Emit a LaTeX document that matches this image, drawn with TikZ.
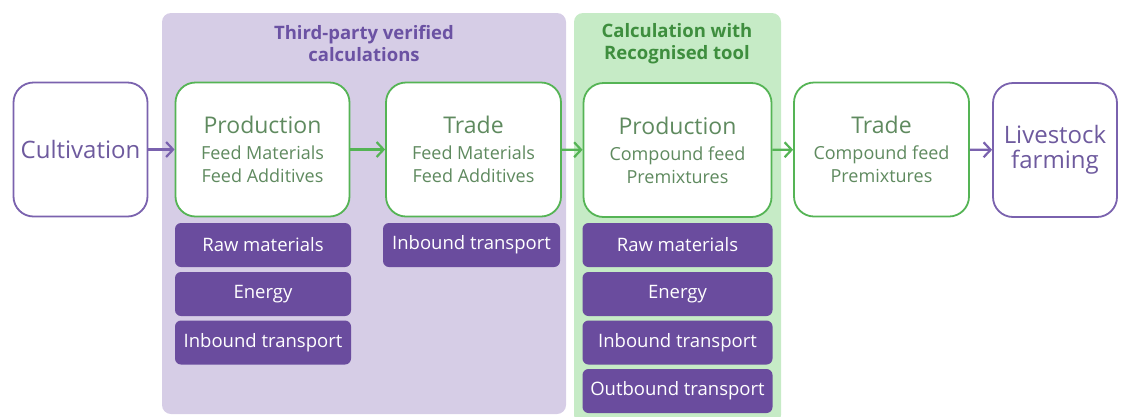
\documentclass[tikz,border=0pt]{standalone}
\usepackage{fontspec}
\setmainfont{Open Sans}
\usetikzlibrary{arrows.meta}
\definecolor{panelP}{HTML}{D6CDE6}
\definecolor{panelG}{HTML}{C6EBC6}
\definecolor{boxP}{HTML}{6A4C9E}
\definecolor{lineG}{HTML}{55B455}
\definecolor{lineP}{HTML}{7A62AE}
\definecolor{txtG}{HTML}{5F8A5F}
\definecolor{txtP}{HTML}{6E5A9E}
\definecolor{titleP}{HTML}{6B52A3}
\definecolor{titleG}{HTML}{3E8E3E}
\tikzset{
  gbox/.style={draw=lineG, line width=1.8pt, fill=white, rounded corners=20pt, align=center, text=txtG, inner sep=0pt, font=\fontsize{18}{23}\selectfont},
  pbox/.style={draw=lineP, line width=1.8pt, fill=white, rounded corners=20pt, align=center, text=txtP, inner sep=0pt, font=\fontsize{24}{25}\selectfont},
  item/.style={fill=boxP, rounded corners=6pt, text=white, minimum height=44pt, inner sep=0pt, font=\fontsize{18.5}{20}\selectfont},
  flowP/.style={draw=lineP, line width=2.2pt, -{Straight Barb[length=7pt,width=15pt]}},
  flowG/.style={draw=lineG, line width=2.2pt, -{Straight Barb[length=7pt,width=15pt]}},
  ttl/.style={font=\bfseries\fontsize{18.5}{22}\selectfont, align=center}
}
\newcommand{\headl}[1]{{\fontsize{23}{24}\selectfont #1}}
\begin{document}
\begin{tikzpicture}[x=1pt,y=-1pt]
\useasboundingbox (0,0) rectangle (1122,416);
\fill[panelP, rounded corners=9pt] (162,13) rectangle (566,414);
\fill[panelG, rounded corners=9pt] (574,13) rectangle (781,424);
\node[ttl, text=titleP] (t1) at (364,44) {Third-party verified\\calculations};
\node[ttl, text=titleG] (t2) at (677,44) {Calculation with\\Recognised tool};

\node[pbox, minimum width=134pt, minimum height=134pt] (cult) at (80.5,149.5) {Cultivation};
\node[gbox, minimum width=174pt, minimum height=134pt] (prod1) at (262.5,149.5) {\headl{Production}\\[3pt]Feed Materials\\Feed Additives};
\node[gbox, minimum width=175pt, minimum height=134pt] (trade1) at (473.5,149.5) {\headl{Trade}\\[3pt]Feed Materials\\Feed Additives};
\node[gbox, minimum width=188pt, minimum height=134pt] (prod2) at (677.5,150) {\headl{Production}\\[3pt]Compound feed\\Premixtures};
\node[gbox, minimum width=175pt, minimum height=134pt] (trade2) at (881.5,149.5) {\headl{Trade}\\[3pt]Compound feed\\Premixtures};
\node[pbox, minimum width=124pt, minimum height=134pt] (live) at (1055,150) {Livestock\\farming};

\draw[flowP] (cult) -- (prod1);
\draw[flowG] (prod1) -- (trade1);
\draw[flowG] (trade1) -- (prod2);
\draw[flowG] (prod2) -- (trade2);
\draw[flowP] (trade2) -- (live);

\node[item, minimum width=176pt] (a1) at (263,245) {Raw materials};
\node[item, minimum width=176pt] (a2) at (263,294) {Energy};
\node[item, minimum width=176pt] (a3) at (263,342.5) {Inbound transport};
\node[item, minimum width=177pt] (b1) at (471.5,245) {Inbound transport};
\node[item, minimum width=190pt] (c1) at (677.5,245) {Raw materials};
\node[item, minimum width=190pt] (c2) at (677.5,294) {Energy};
\node[item, minimum width=190pt] (c3) at (677.5,342.5) {Inbound transport};
\node[item, minimum width=190pt] (c4) at (677.5,391) {Outbound transport};
\end{tikzpicture}
\end{document}
